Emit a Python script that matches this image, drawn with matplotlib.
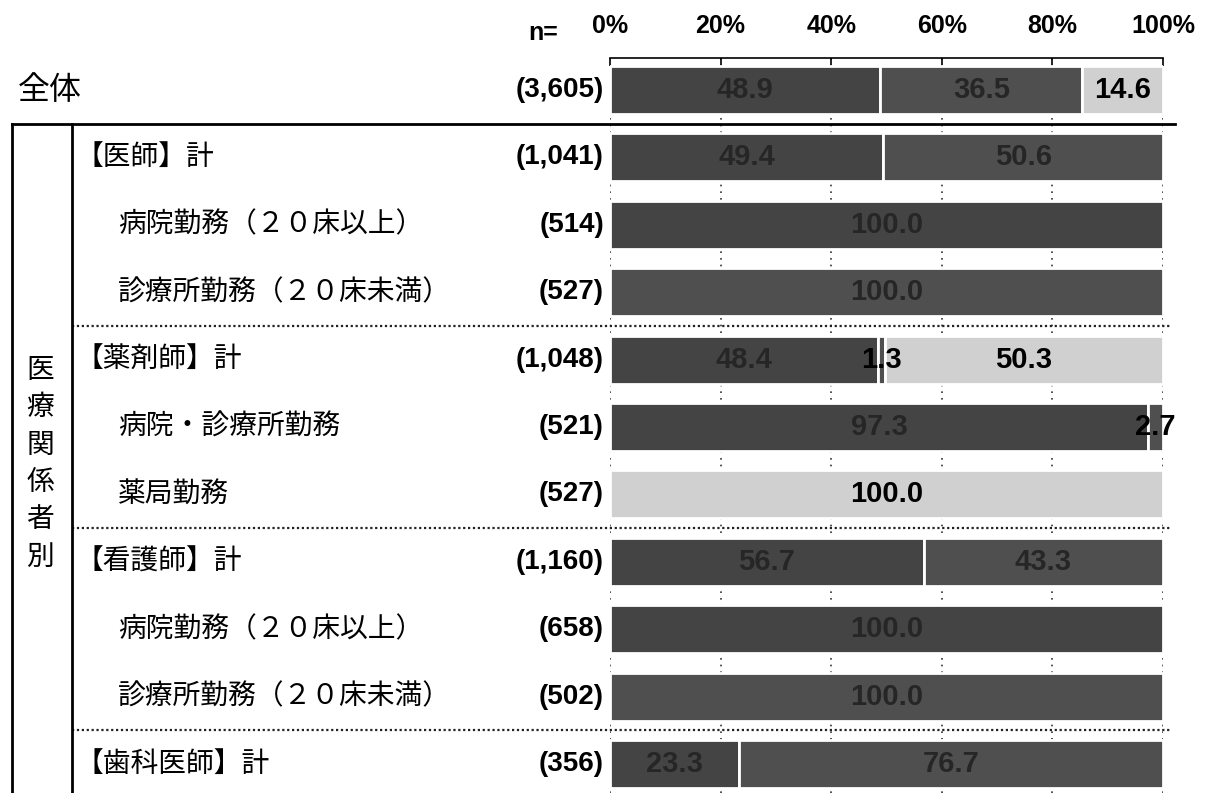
import numpy as np
import matplotlib
matplotlib.use("Agg")
import matplotlib.pyplot as plt
from matplotlib.transforms import blended_transform_factory

plt.rcParams['font.family'] = ['Noto Sans CJK JP', 'DejaVu Sans']

# ---- data ----
row_labels = ['全体', '【医師】計', '病院勤務（２０床以上）', '診療所勤務（２０床未満）',
              '【薬剤師】計', '病院・診療所勤務', '薬局勤務',
              '【看護師】計', '病院勤務（２０床以上）', '診療所勤務（２０床未満）',
              '【歯科医師】計']
row_level = [0, 1, 2, 2, 1, 2, 2, 1, 2, 2, 1]
n_labels = ['(3,605)', '(1,041)', '(514)', '(527)', '(1,048)', '(521)', '(527)',
            '(1,160)', '(658)', '(502)', '(356)']
hospital = [48.9, 49.4, 100.0, 0.0, 48.4, 97.3, 0.0, 56.7, 100.0, 0.0, 23.3]
clinic = [36.5, 50.6, 0.0, 100.0, 1.3, 2.7, 0.0, 43.3, 0.0, 100.0, 76.7]
pharmacy = [14.6, 0.0, 0.0, 0.0, 50.3, 0.0, 100.0, 0.0, 0.0, 0.0, 0.0]
tick_vals = [0, 20, 40, 60, 80, 100]
tick_labels = ['0%', '20%', '40%', '60%', '80%', '100%']
group_label = '医療関係者別'
separators_solid = [0.5]
separators_dotted = [3.5, 6.5, 9.5]

W, H = 1207, 793
fig = plt.figure(figsize=(W / 100, H / 100), dpi=100)
ax = fig.add_axes([610 / W, 0, (1163 - 610) / W, (H - 57.5) / H])

y = np.arange(len(row_labels))
series = [
    (np.array(hospital), '#444444', '#262626'),
    (np.array(clinic), '#4f4f4f', '#262626'),
    (np.array(pharmacy), '#d0d0d0', '#000000'),
]
num_font = dict(family=['Liberation Sans', 'DejaVu Sans'], weight='bold')

left = np.zeros(len(y))
bar_h = 0.71
for vals, col, tcol in series:
    m = vals > 0
    ax.barh(y[m], vals[m], left=left[m], height=bar_h, color=col,
            edgecolor='white', linewidth=2, zorder=2)
    for yi, v, l in zip(y[m], vals[m], left[m]):
        c = '#000000' if (v < 5) else tcol
        ax.text(l + v / 2, yi, f'{v:.1f}', ha='center', va='center',
                fontsize=21, color=c, zorder=3, **num_font)
    left = left + vals

ax.set_xlim(0, 100)
ax.set_ylim(10.43, -0.482)
ax.set_yticks([])
ax.xaxis.tick_top()
ax.set_xticks(tick_vals)
ax.set_xticklabels(tick_labels, fontsize=18, **num_font)
ax.tick_params(axis='x', direction='in', length=6, width=1.2, pad=14)
for s in ['left', 'right', 'bottom']:
    ax.spines[s].set_visible(False)
ax.spines['top'].set_linewidth(1.2)
ax.set_axisbelow(True)
ax.grid(axis='x', linestyle=(0, (1, 3)), color='#333333', linewidth=1.2, zorder=0)

# n labels
for yi, nl in zip(y, n_labels):
    ax.text(-1.1, yi, nl, ha='right', va='center', fontsize=20,
            clip_on=False, **num_font)
fig.text(543 / W, 1 - 33 / H, 'n=', ha='center', va='center', fontsize=18, **num_font)

# left labels
trans = blended_transform_factory(fig.transFigure, ax.transData)
xpos = {0: 18 / W, 1: 75 / W, 2: 118 / W}
for yi, lab, lv in zip(y, row_labels, row_level):
    ax.text(xpos[lv], yi, lab, ha='left', va='center',
            fontsize=23 if lv == 0 else 20, transform=trans, clip_on=False)

# separators
for s in separators_solid:
    ax.plot([12 / W, 1175 / W], [s, s], transform=trans, color='black',
            lw=2, clip_on=False, zorder=4)
for s in separators_dotted:
    ax.plot([72 / W, 1172 / W], [s, s], transform=trans, color='#222222',
            lw=1.6, ls=(0, (1, 1.2)), clip_on=False, zorder=4)
for xv in [12 / W, 72 / W]:
    ax.plot([xv, xv], [0.5, 10.43], transform=trans, color='black', lw=2,
            clip_on=False, zorder=4)

for k, ch in enumerate(group_label):
    fig.text(40 / W, 1 - (370 + 37.3 * k) / H, ch, ha='center', va='center',
             fontsize=20)

fig.savefig('out.png', dpi=100, facecolor='white')
